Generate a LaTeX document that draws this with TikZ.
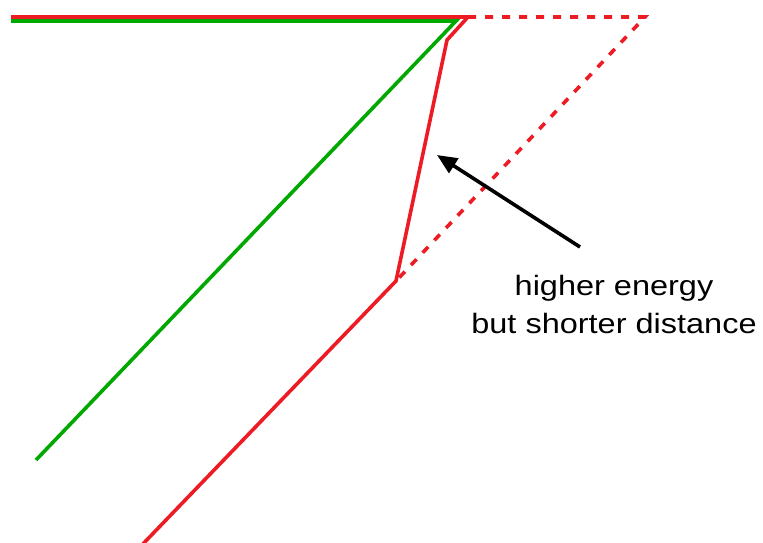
\documentclass[tikz,border=0pt]{standalone}
\usepackage{fontspec}
\setmainfont{Liberation Sans}
\usetikzlibrary{arrows.meta}
\definecolor{lred}{RGB}{237,28,36}
\definecolor{lgreen}{RGB}{0,168,0}
\tikzset{
  redline/.style={draw=lred, line width=3.6pt, line join=miter},
  reddash/.style={draw=lred, line width=3.6pt, dash pattern=on 8pt off 9pt},
  greenline/.style={draw=lgreen, line width=3.6pt},
  pointer/.style={draw=black, line width=3.6pt, -{Triangle[length=20pt,width=17pt]}},
  label/.style={font=\fontsize{28}{37}\selectfont, inner sep=0pt, anchor=base}
}
\newcommand{\widetxt}[1]{\scalebox{1.16}[1]{#1}}
\begin{document}
\begin{tikzpicture}[x=1pt,y=-1pt]
\useasboundingbox (0,0) rectangle (763,543);
% red path
\coordinate (rs) at (11,17);
\coordinate (rc) at (468,17);
\coordinate (rk) at (447,40);
\coordinate (rm) at (396,281);
\coordinate (re) at (140,547);
\coordinate (dc) at (645,17);
% green path
\coordinate (gs) at (11,21);
\coordinate (gc) at (456,21);
\coordinate (ge) at (36,460);
% arrow
\coordinate (at) at (580,247);
\coordinate (ah) at (437,155);

\draw[greenline] (gs) -- (gc) -- (ge);
\draw[redline] (rs) -- (rc) -- (rk) -- (rm) -- (re);
\draw[reddash] (rc) -- (dc) -- (rm);
\draw[pointer] (at) -- (ah);
\node[label] (txt1) at (614,295.7) {\widetxt{higher energy}};
\node[label] (txt2) at (614,333.3) {\widetxt{but shorter distance}};
\end{tikzpicture}
\end{document}
